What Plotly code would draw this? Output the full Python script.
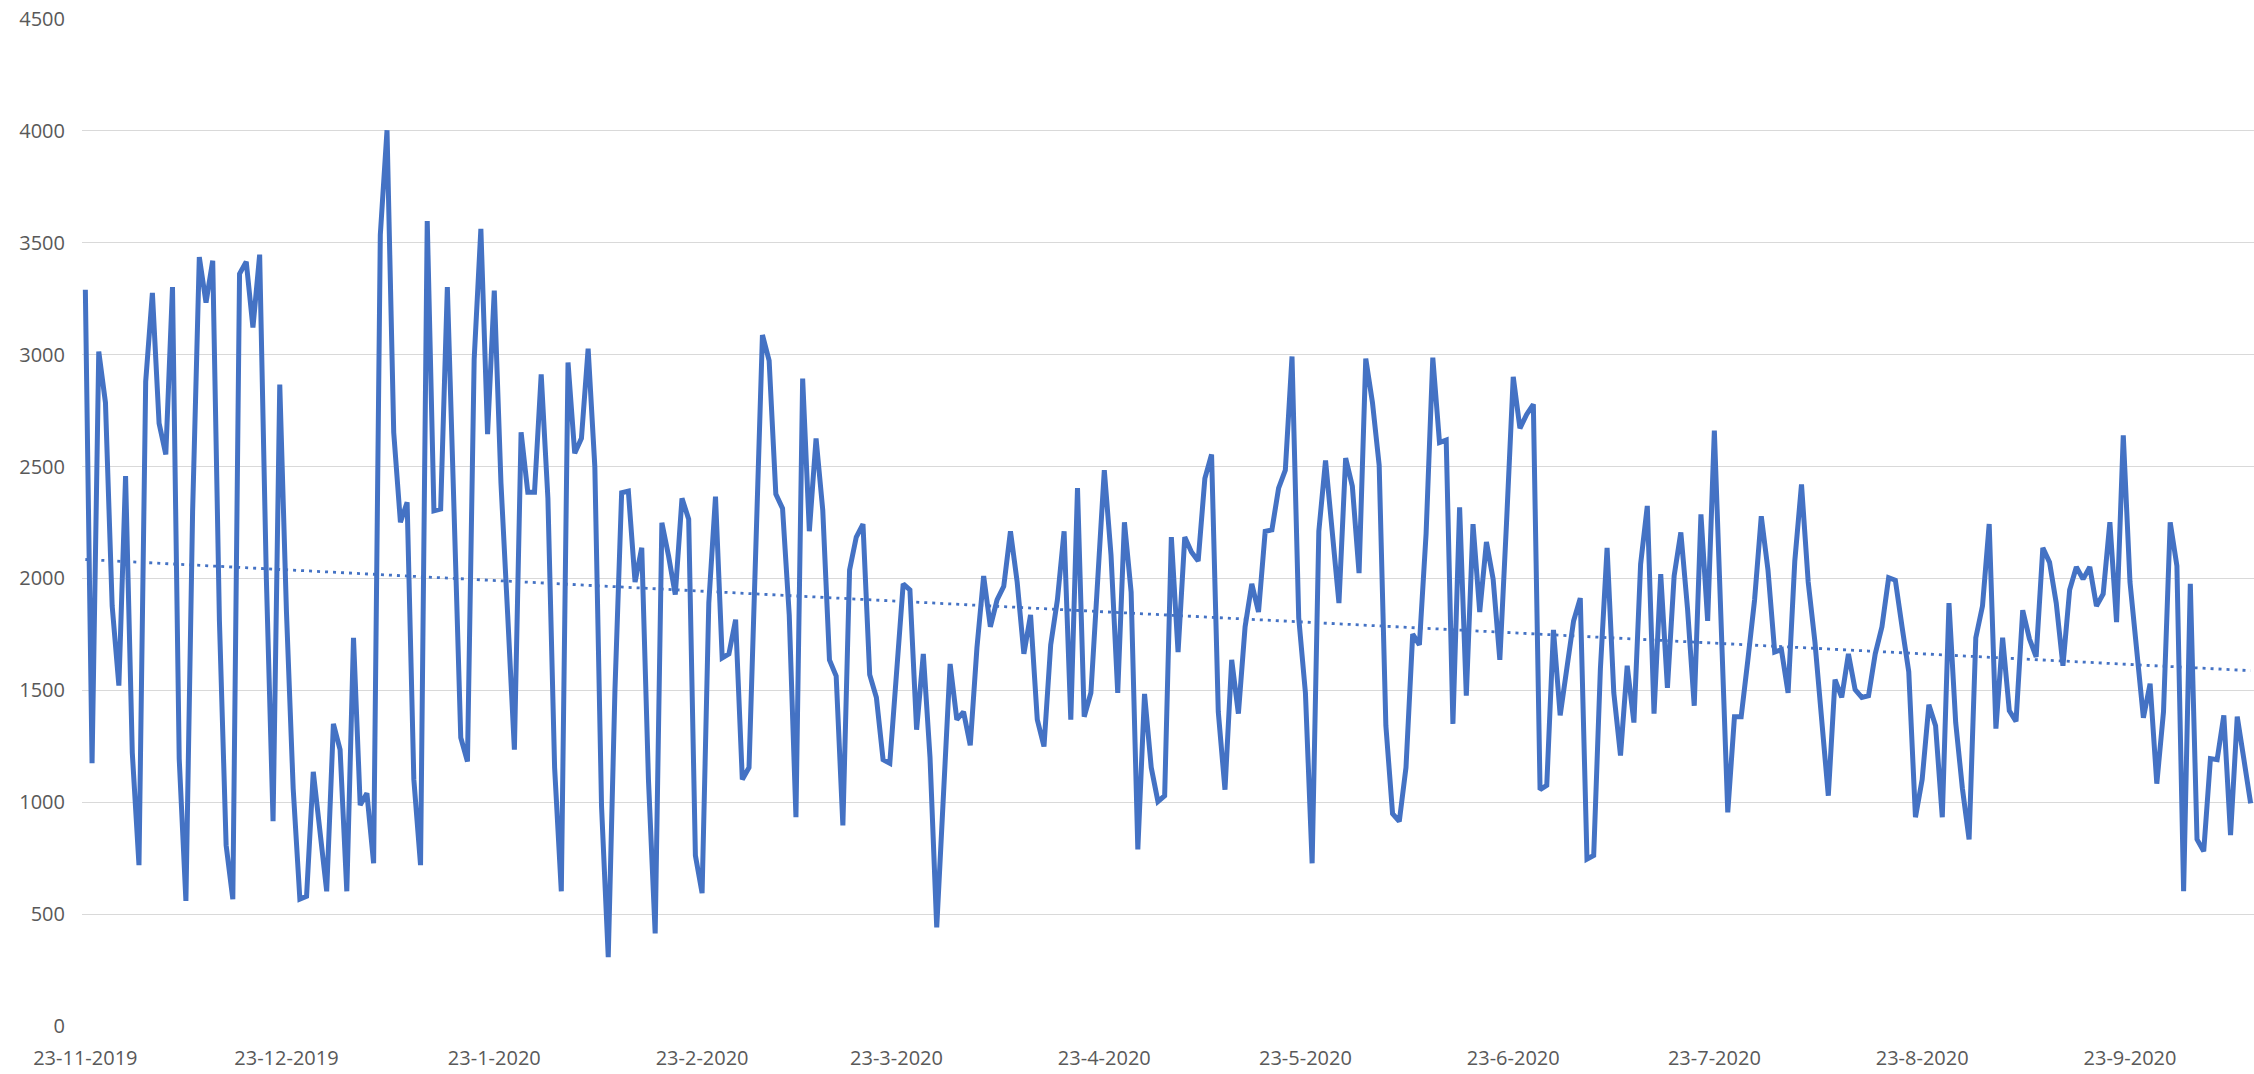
import numpy as np
import pandas as pd
import plotly.graph_objects as go

# Daily counts starting 23-11-2019
start_date = "2019-11-23"
daily_values = [
    3290, 1174, 3014, 2786, 1877, 1521, 2457, 1222, 719, 2880,
    3276, 2693, 2554, 3302, 1195, 559, 2300, 3436, 3233, 3420,
    1810, 808, 567, 3361, 3415, 3121, 3447, 2000, 915, 2866,
    1850, 1062, 567, 580, 1136, 874, 602, 1350, 1235, 602,
    1735, 987, 1040, 727, 3535, 4003, 2653, 2251, 2340, 1102,
    719, 3597, 2302, 2310, 3302, 2300, 1289, 1182, 2980, 3562,
    2645, 3286, 2425, 1837, 1235, 2653, 2385, 2385, 2912, 2358,
    1155, 602, 2965, 2559, 2626, 3027, 2500, 981, 308, 1500,
    2383, 2390, 1984, 2137, 1100, 414, 2249, 2100, 1928, 2358,
    2265, 762, 594, 1890, 2366, 1645, 1663, 1816, 1102, 1155,
    2104, 3088, 2973, 2377, 2313, 1837, 933, 2893, 2211, 2626,
    2305, 1636, 1564, 896, 2038, 2185, 2243, 1570, 1468, 1190,
    1174, 1590, 1976, 1949, 1324, 1663, 1200, 441, 1088, 1618,
    1369, 1404, 1254, 1690, 2011, 1784, 1904, 1965, 2211, 1984,
    1663, 1837, 1369, 1249, 1703, 1904, 2211, 1369, 2404, 1382,
    1489, 1997, 2484, 2104, 1489, 2251, 1939, 789, 1484, 1155,
    1003, 1029, 2185, 1671, 2185, 2118, 2078, 2447, 2554, 1404,
    1056, 1636, 1396, 1784, 1976, 1850, 2211, 2217, 2404, 2484,
    2992, 1824, 1489, 727, 2211, 2527, 2211, 1890, 2538, 2412,
    2024, 2982, 2786, 2506, 1342, 949, 914, 1155, 1751, 1703,
    2200, 2987, 2607, 2618, 1350, 2318, 1476, 2243, 1850, 2163,
    1997, 1636, 2250, 2901, 2671, 2733, 2778, 1056, 1075, 1770,
    1388, 1596, 1810, 1912, 746, 762, 1596, 2137, 1489, 1209,
    1610, 1356, 2064, 2324, 1396, 2019, 1511, 2011, 2206, 1864,
    1431, 2286, 1810, 2661, 1750, 955, 1382, 1382, 1636, 1904,
    2278, 2038, 1671, 1682, 1489, 2078, 2420, 1984, 1717, 1356,
    1029, 1548, 1468, 1663, 1503, 1468, 1476, 1663, 1784, 2003,
    1992, 1784, 1583, 933, 1102, 1436, 1342, 933, 1890, 1356,
    1062, 834, 1735, 1877, 2243, 1329, 1735, 1409, 1361, 1858,
    1730, 1650, 2137, 2072, 1890, 1610, 1949, 2051, 1997, 2051,
    1877, 1931, 2251, 1805, 2639, 1984, 1677, 1377, 1530, 1083,
    1404, 2251, 2056, 602, 1976, 834, 781, 1195, 1190, 1388,
    853, 1382, 1190, 995,
]

month_ticks = [
    "2019-11-23", "2019-12-23", "2020-01-23", "2020-02-23", "2020-03-23",
    "2020-04-23", "2020-05-23", "2020-06-23", "2020-07-23", "2020-08-23",
    "2020-09-23",
]
month_labels = [
    "23-11-2019", "23-12-2019", "23-1-2020", "23-2-2020", "23-3-2020",
    "23-4-2020", "23-5-2020", "23-6-2020", "23-7-2020", "23-8-2020",
    "23-9-2020",
]
y_ticks = [0, 500, 1000, 1500, 2000, 2500, 3000, 3500, 4000, 4500]

dates = pd.date_range(start_date, periods=len(daily_values), freq="D")
values = np.array(daily_values, dtype=float)

# Linear trend (least squares over day number)
day_num = np.arange(len(values))
slope, intercept = np.polyfit(day_num, values, 1)
trend = intercept + slope * day_num

line_color = "#4472C4"
text_color = "#595959"
grid_color = "#D9D9D9"

fig = go.Figure()
fig.add_trace(go.Scatter(
    x=dates, y=values, mode="lines",
    line=dict(color=line_color, width=5),
    showlegend=False, hoverinfo="x+y",
))
fig.add_trace(go.Scatter(
    x=dates, y=trend, mode="lines",
    line=dict(color=line_color, width=2.8, dash="3px,5px"),
    showlegend=False, hoverinfo="skip",
))

x_start = dates[0] - pd.Timedelta(hours=12)
x_end = dates[-1] + pd.Timedelta(hours=12)

fig.update_layout(
    width=2254, height=1074,
    margin=dict(l=82, r=0, t=19, b=48),
    paper_bgcolor="white", plot_bgcolor="white",
    font=dict(family="Open Sans, Lato, sans-serif", size=20, color=text_color),
    xaxis=dict(
        type="date", range=[x_start, x_end],
        tickmode="array", tickvals=month_ticks, ticktext=month_labels,
        showgrid=False, zeroline=False, showline=False, ticks="",
        ticklabelstandoff=18,
    ),
    yaxis=dict(
        range=[0, 4500], tickmode="array", tickvals=y_ticks,
        showgrid=True, gridcolor=grid_color, gridwidth=1.3,
        zeroline=False, showline=False, ticks="",
        ticklabelstandoff=16,
    ),
)

fig.write_html("out.html")
